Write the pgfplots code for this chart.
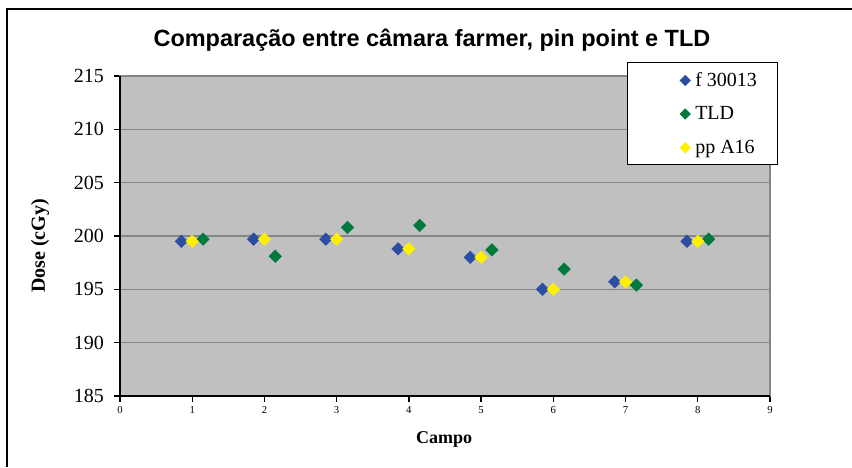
\documentclass[border=0pt]{standalone}
\usepackage{pgfplots}
\pgfplotsset{compat=1.18}
\usepackage{fontspec}
\setmainfont{Liberation Serif}
\newfontfamily\titlefont{Liberation Sans}
\definecolor{sblue}{HTML}{2B4EA2}
\definecolor{sgreen}{HTML}{00793C}
\definecolor{syellow}{HTML}{FFF000}
\definecolor{plotbg}{HTML}{C0C0C0}
\definecolor{gridgray}{HTML}{858585}
\begin{document}
\begin{tikzpicture}
\path[use as bounding box] (0pt,0pt) rectangle (639pt,350.25pt);
\draw[line width=1.5pt] (5.6pt,0pt) -- (5.6pt,343.5pt) -- (639pt,343.5pt);
\begin{axis}[
  at={(90pt,53.25pt)}, anchor=south west,
  scale only axis, width=487.5pt, height=240pt,
  xmin=0, xmax=9, ymin=185, ymax=215,
  xtick={0,1,...,9}, ytick={185,190,...,215},
  axis background/.style={fill=plotbg},
  axis line style={draw=gridgray, line width=1.2pt},
  ymajorgrids, grid style={gridgray, line width=1.2pt},
  tick align=outside, xtick pos=bottom, ytick pos=left,
  major tick length=4.5pt,
  tick style={black, line width=1pt},
  xticklabel style={font=\fontsize{8}{8}\selectfont},
  yticklabel style={font=\fontsize{15}{15}\selectfont, xshift=-4pt},
  /pgf/number format/assume math mode=true,
  ylabel={\bfseries Dose (cGy)},
  ylabel style={at={(axis description cs:-0.123,0.469)}, anchor=center, font=\fontsize{15}{15}\selectfont},
  xlabel={\bfseries Campo},
  xlabel style={at={(axis description cs:0.4985,-0.135)}, anchor=center, font=\fontsize{13.5}{13.5}\selectfont},
  title={\titlefont\bfseries Compara\c{c}\~ao entre c\^amara farmer, pin point e TLD},
  title style={at={(axis description cs:0.48,1.088)}, anchor=center, font=\fontsize{17.6}{17.6}\selectfont},
  legend style={at={(axis description cs:1.012,1.044)}, anchor=north east,
    draw=black, line width=0.8pt, fill=white, inner xsep=0pt, inner ysep=0.5pt,
    column sep=0pt, row sep=0pt, font=\fontsize{15}{15}\selectfont,
    nodes={inner sep=0pt}},
  legend cell align=left,
  legend image code/.code={
    \path[draw=none, fill=none] (-43.5pt,-12.2pt) rectangle (7.5pt,13pt);
    \draw[#1, mark size=2.6pt] plot coordinates {(0pt,0pt)};
  },
  clip=false,
]
\addplot[only marks, mark=square*, mark size=3.3pt, mark options={rotate=45, fill=sblue, draw=sblue}, draw=sblue]
  coordinates {(0.85,199.5) (1.85,199.7) (2.85,199.7) (3.85,198.8) (4.85,198.0) (5.85,195.0) (6.85,195.7) (7.85,199.5)};
\addlegendentry{\makebox[61.5pt][l]{f 30013}}
\addplot[only marks, mark=square*, mark size=3.3pt, mark options={rotate=45, fill=sgreen, draw=sgreen}, draw=sgreen]
  coordinates {(1.15,199.7) (2.15,198.1) (3.15,200.8) (4.15,201.0) (5.15,198.7) (6.15,196.9) (7.15,195.4) (8.15,199.7)};
\addlegendentry{\makebox[61.5pt][l]{TLD}}
\addplot[only marks, mark=square*, mark size=3.3pt, mark options={rotate=45, fill=syellow, draw=syellow}, draw=syellow]
  coordinates {(1,199.5) (2,199.7) (3,199.7) (4,198.8) (5,198.0) (6,195.0) (7,195.7) (8,199.5)};
\addlegendentry{\makebox[61.5pt][l]{pp A16}}
\draw[black, line width=1.5pt] (rel axis cs:0,1) -- (rel axis cs:0,0) -- (rel axis cs:1,0);
\end{axis}
\end{tikzpicture}
\end{document}
